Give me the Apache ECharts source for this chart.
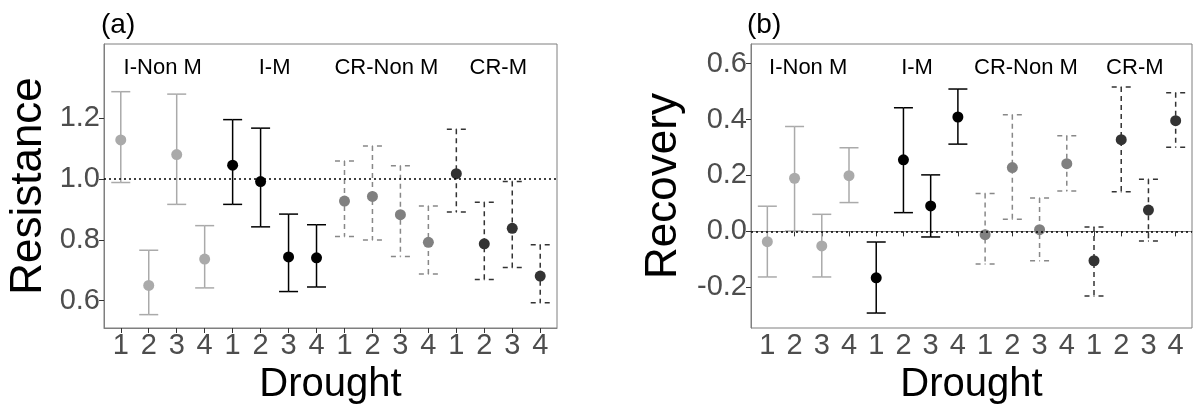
<!DOCTYPE html>
<html>
<head>
<meta charset="utf-8">
<script src="https://cdn.jsdelivr.net/npm/echarts@6/dist/echarts.min.js"></script>
<style>
  html, body { margin: 0; padding: 0; background: #fff; }
  #chart { width: 1194px; height: 412px; }
</style>
</head>
<body>
<div id="chart"></div>
<script>
// drought number inside each treatment group
const droughts = [1, 2, 3, 4];
const groups = ["I-Non M", "I-M", "CR-Non M", "CR-M"];

// (a) resistance: mean and interval, 4 droughts per group in the order of groups
const resistanceMean = [1.129, 0.650, 1.081, 0.737, 1.046, 0.992, 0.744, 0.741, 0.928, 0.943, 0.883, 0.792, 1.018, 0.787, 0.838, 0.681];
const resistanceLow = [0.989, 0.554, 0.917, 0.642, 0.917, 0.843, 0.630, 0.645, 0.811, 0.800, 0.745, 0.688, 0.892, 0.670, 0.709, 0.593];
const resistanceHigh = [1.288, 0.766, 1.280, 0.847, 1.196, 1.168, 0.885, 0.850, 1.060, 1.109, 1.044, 0.912, 1.164, 0.924, 0.992, 0.784];

// (b) recovery
const recoveryMean = [-0.037, 0.190, -0.052, 0.199, -0.166, 0.256, 0.091, 0.409, -0.012, 0.228, 0.006, 0.242, -0.105, 0.328, 0.076, 0.396];
const recoveryLow = [-0.163, 0.001, -0.163, 0.103, -0.292, 0.067, -0.020, 0.312, -0.117, 0.043, -0.105, 0.144, -0.231, 0.142, -0.034, 0.301];
const recoveryHigh = [0.090, 0.375, 0.061, 0.299, -0.038, 0.442, 0.202, 0.509, 0.135, 0.417, 0.119, 0.342, 0.016, 0.516, 0.186, 0.496];

const resistanceTicks = [0.6, 0.8, 1.0, 1.2];
const recoveryTicks = [-0.2, 0.0, 0.2, 0.4, 0.6];

const pointColors = ["#aaaaaa", "#000000", "#808080", "#333333"];
const barColors = ["#aaaaaa", "#000000", "#888888", "#333333"];
const dashed = [false, false, true, true];

const font = "'Liberation Sans', Arial, sans-serif";
const positions = [];
for (let i = 0; i < 16; i++) positions.push(i + 1);

const chart = echarts.init(document.getElementById("chart"));

const makeBarRenderer = (g) => (params, api) => {
  const x = api.value(0);
  const lo = api.coord([x, api.value(1)]);
  const hi = api.coord([x, api.value(2)]);
  const w = 9.5;
  const style = {
    stroke: barColors[g],
    lineWidth: 1.5,
    fill: null,
    lineDash: dashed[g] ? [5, 4] : null,
  };
  const seg = (x1, y1, x2, y2) => ({
    type: "line",
    shape: { x1, y1, x2, y2 },
    style,
  });
  return {
    type: "group",
    children: [
      seg(hi[0], hi[1], lo[0], lo[1]),
      seg(hi[0] - w, hi[1], hi[0], hi[1]),
      seg(hi[0] + w, hi[1], hi[0], hi[1]),
      seg(lo[0] - w, lo[1], lo[0], lo[1]),
      seg(lo[0] + w, lo[1], lo[0], lo[1]),
    ],
  };
};

const buildSeries = (idx, mean, low, high, refValue) => {
  const list = [];
  groups.forEach((name, g) => {
    const bars = [];
    const pts = [];
    droughts.forEach((d, k) => {
      const i = g * 4 + k;
      bars.push([positions[i], low[i], high[i]]);
      pts.push([positions[i], mean[i]]);
    });
    list.push({
      type: "custom",
      name: name,
      xAxisIndex: idx,
      yAxisIndex: idx,
      renderItem: makeBarRenderer(g),
      encode: { x: 0, y: [1, 2] },
      data: bars,
      z: 2,
      silent: true,
    });
    list.push({
      type: "scatter",
      name: name,
      xAxisIndex: idx,
      yAxisIndex: idx,
      symbolSize: 11,
      itemStyle: { color: pointColors[g], opacity: 1 },
      data: pts,
      z: 3,
      markLine:
        g === 0
          ? {
              silent: true,
              symbol: "none",
              label: { show: false },
              lineStyle: { color: "#000", type: [2, 3], width: 1.5 },
              data: [{ yAxis: refValue }],
            }
          : undefined,
    });
  });
  return list;
};

const xAxisFor = (gridIndex) => ({
  type: "value",
  gridIndex,
  min: 0.4,
  max: 16.6,
  name: "Drought",
  nameLocation: "middle",
  nameGap: 30,
  nameTextStyle: { fontSize: 40, color: "#000", fontFamily: font },
  axisLine: { show: true, lineStyle: { color: "#7f7f7f", width: 1 } },
  axisTick: { show: true, length: 5, customValues: positions, lineStyle: { color: "#333" } },
  axisLabel: {
    customValues: positions,
    formatter: (v) => String(droughts[(Math.round(v) - 1) % 4]),
    fontSize: 29,
    color: "#4d4d4d",
    fontFamily: font,
    margin: 3,
  },
  splitLine: { show: false },
});

const yAxisFor = (gridIndex, name, min, max, ticks, gap) => ({
  type: "value",
  gridIndex,
  min,
  max,
  name,
  nameLocation: "middle",
  nameRotate: 90,
  nameGap: gap,
  nameTextStyle: { fontSize: 44, color: "#000", fontFamily: font },
  axisLine: { show: true, lineStyle: { color: "#7f7f7f", width: 1 } },
  axisTick: { show: true, length: 5, customValues: ticks, lineStyle: { color: "#333" } },
  axisLabel: {
    customValues: ticks,
    formatter: (v) => v.toFixed(1),
    fontSize: 29,
    color: "#4d4d4d",
    fontFamily: font,
    margin: 4,
  },
  splitLine: { show: false },
});

const option = {
  animation: false,
  backgroundColor: "#fff",
  textStyle: { fontFamily: font },
  grid: [
    { left: 104, top: 44, width: 453, height: 284, show: true, borderColor: "#7f7f7f", borderWidth: 1, backgroundColor: "#fff" },
    { left: 751, top: 44, width: 441, height: 284, show: true, borderColor: "#7f7f7f", borderWidth: 1, backgroundColor: "#fff" },
  ],
  xAxis: [xAxisFor(0), xAxisFor(1)],
  yAxis: [
    yAxisFor(0, "Resistance", 0.51, 1.445, resistanceTicks, 53),
    yAxisFor(1, "Recovery", -0.3455, 0.67, recoveryTicks, 65),
  ],
  series: [
    ...buildSeries(0, resistanceMean, resistanceLow, resistanceHigh, 1.0),
    ...buildSeries(1, recoveryMean, recoveryLow, recoveryHigh, 0.0),
  ],
};

chart.setOption(option);

// panel letters and group labels centred over each group of four droughts
const graphics = [
  { type: "text", left: 101, top: 11, style: { text: "(a)", font: "28px " + font, fill: "#000" } },
  { type: "text", left: 747, top: 11, style: { text: "(b)", font: "28px " + font, fill: "#000" } },
];
[0, 1].forEach((idx) => {
  groups.forEach((name, g) => {
    const cx = chart.convertToPixel({ xAxisIndex: idx }, g * 4 + 2.5);
    graphics.push({
      type: "text",
      x: cx,
      y: 68,
      style: {
        text: name,
        font: "22px " + font,
        fill: "#000",
        align: "center",
        verticalAlign: "middle",
      },
    });
  });
});
chart.setOption({ graphic: graphics });
</script>
</body>
</html>
